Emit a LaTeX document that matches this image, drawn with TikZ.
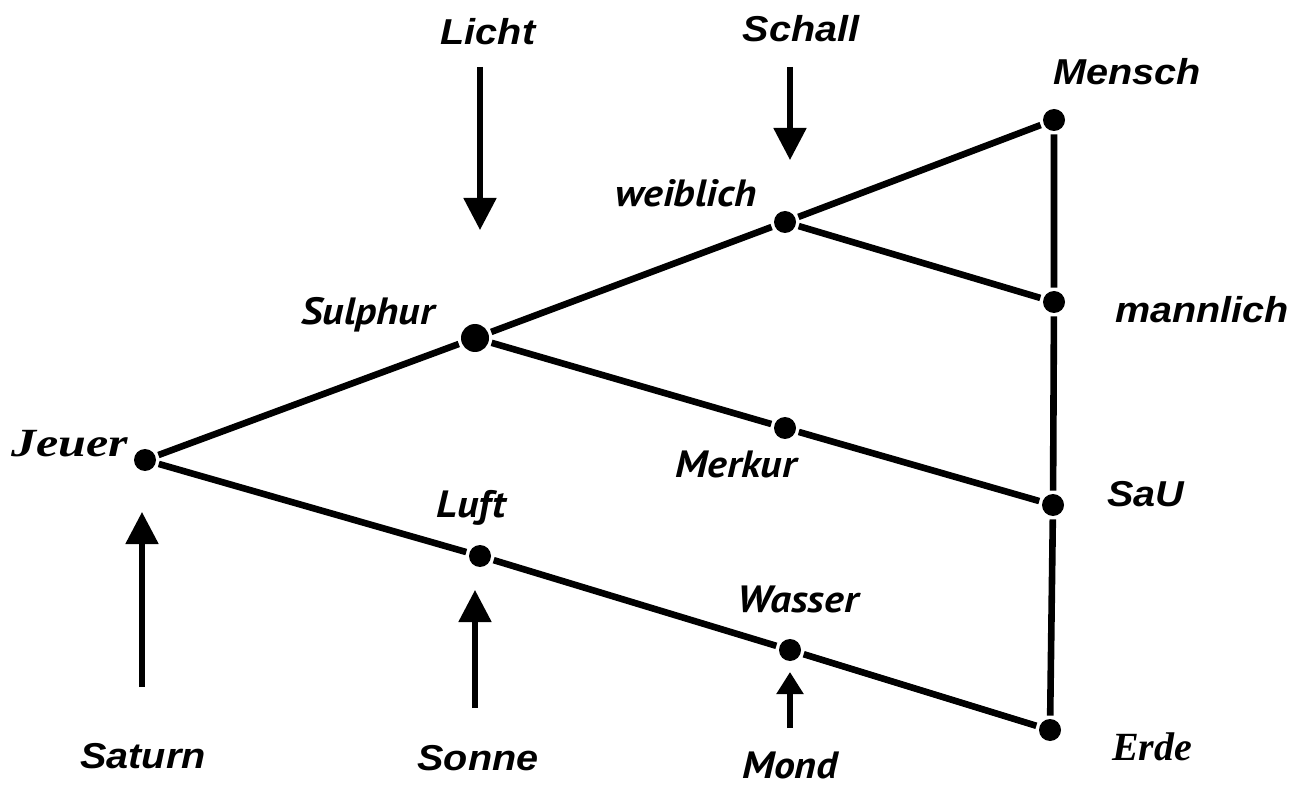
\documentclass[tikz,border=0pt]{standalone}
\usepackage{fontspec}
\newfontfamily\labfont{Liberation Sans}
\newfontfamily\handfont{PT Sans}
\newfontfamily\serfont{Liberation Serif}
\usetikzlibrary{arrows.meta, positioning}

\tikzset{
    dot/.style={circle, fill, inner sep=0pt, minimum size=11pt},
    bigdot/.style={dot, minimum size=14pt},
    lab/.style={anchor=base, inner sep=0pt, xscale=1.1, font=\labfont\fontsize{18}{20}\selectfont\bfseries\itshape},
    hand/.style={anchor=base, inner sep=0pt, xscale=1.1, font=\handfont\fontsize{19}{21}\selectfont\bfseries\itshape},
    ser/.style={anchor=base, inner sep=0pt, font=\serfont\fontsize{20}{22}\selectfont\bfseries\itshape},
    ray/.style={-{Triangle[width=16pt, length=16pt]}, line width=2.6pt},
}

\begin{document}
\begin{tikzpicture}[x=0.5pt, y=-0.5pt, line width=3.3pt]
    \useasboundingbox (0,0) rectangle (1297,786);

    % Nodes
    \node[dot] (Jeuer) at (145, 460) {};
    \node[bigdot] (Sulphur) at (475, 338) {};
    \node[dot] (weiblich) at (785, 222) {};
    \node[dot] (Mensch) at (1054, 120) {};
    \node[dot] (mannlich) at (1054, 302) {};
    \node[dot] (Merkur) at (785, 428) {};
    \node[dot] (SaU) at (1053, 505) {};
    \node[dot] (Luft) at (480, 556) {};
    \node[dot] (Wasser) at (790, 650) {};
    \node[dot] (Erde) at (1050, 730) {};

    % Labels
    \node[ser, xscale=1.25] (tJeuer) at (70, 457) {Jeuer};
    \node[hand] (tSulphur) at (368, 325) {Sulphur};
    \node[hand] (tweiblich) at (686, 207) {weiblich};
    \node[lab] (tMensch) at (1127, 85) {Mensch};
    \node[lab] (tmannlich) at (1202, 323) {mannlich};
    \node[hand] (tMerkur) at (736, 478) {Merkur};
    \node[lab] (tSaU) at (1146, 507) {SaU};
    \node[hand] (tLuft) at (471, 517) {Luft};
    \node[hand] (tWasser) at (798, 612) {Wasser};
    \node[ser] (tErde) at (1152, 760) {Erde};
    \node[lab] (tLicht) at (488, 45) {Licht};
    \node[lab] (tSchall) at (801, 42) {Schall};
    \node[lab] (tSaturn) at (143, 768) {Saturn};
    \node[lab] (tSonne) at (478, 770) {Sonne};
    \node[hand] (tMond) at (790, 778) {Mond};

    % Arrow ends
    \coordinate (Licht0) at (480, 67);
    \coordinate (Licht1) at (480, 230);
    \coordinate (Schall0) at (790, 67);
    \coordinate (Schall1) at (790, 160);
    \coordinate (Saturn0) at (142, 687);
    \coordinate (Saturn1) at (142, 512);
    \coordinate (Sonne0) at (475, 708);
    \coordinate (Sonne1) at (475, 590);
    \coordinate (Mond0) at (790, 728);
    \coordinate (Mond1) at (790, 672);

    % Paths
    \draw (Jeuer) -- (Sulphur) -- (weiblich) -- (Mensch);
    \draw (Sulphur) -- (Merkur) -- (SaU);
    \draw (weiblich) -- (mannlich);
    \draw (Jeuer) -- (Luft) -- (Wasser) -- (Erde);
    \draw (Mensch) -- (mannlich) -- (SaU) -- (Erde);

    % Rays
    \draw[ray] (Licht0) -- (Licht1);
    \draw[ray] (Schall0) -- (Schall1);
    \draw[ray] (Saturn0) -- (Saturn1);
    \draw[ray] (Sonne0) -- (Sonne1);
    \draw[ray, -{Triangle[width=13pt, length=11pt]}] (Mond0) -- (Mond1);
\end{tikzpicture}
\end{document}
